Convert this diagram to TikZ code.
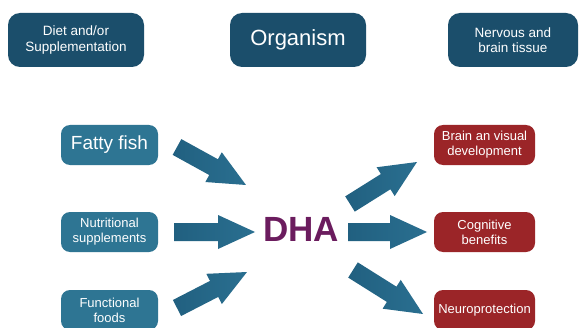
\documentclass[tikz,border=0pt]{standalone}
\usepackage{fontspec}
\setmainfont{Liberation Sans}
\usetikzlibrary{calc}
\definecolor{topbox}{HTML}{1B4E6B}
\definecolor{srcbox}{HTML}{2E7593}
\definecolor{effbox}{HTML}{9B2528}
\definecolor{arrcol}{HTML}{216080}
\definecolor{arrcolB}{HTML}{2A6F90}
\definecolor{dhacol}{HTML}{6B1C5E}
\tikzset{
  topstyle/.style={fill=topbox, rounded corners=12pt, text=white, align=center,
    minimum height=54pt, inner sep=0pt, font=\fontsize{13.5}{15.5}\selectfont},
  srcstyle/.style={fill=srcbox, rounded corners=9pt, text=white, align=center,
    minimum width=97pt, minimum height=40pt, inner sep=0pt, font=\fontsize{13}{15}\selectfont},
  effstyle/.style={fill=effbox, rounded corners=9pt, text=white, align=center,
    minimum width=101pt, minimum height=40pt, inner sep=0pt, font=\fontsize{13}{15}\selectfont},
  arrstyle/.style={left color=arrcol, right color=arrcolB, draw=none}
}
\begin{document}
\begin{tikzpicture}[x=1pt,y=1pt]
\useasboundingbox (0,0) rectangle (580,327);
\clip (0,0) rectangle (580,327);
\fill[white] (0,0) rectangle (580,327);
% top row
\node[topstyle, minimum width=136pt] (diet) at (76,287) {Diet and/or\\Supplementation};
\node[topstyle, minimum width=136pt, font=\fontsize{22}{26}\selectfont] (org) at (298,287) {Organism};
\node[topstyle, minimum width=130pt] (nerv) at (513,287) {Nervous and\\brain tissue};
% sources
\node[srcstyle, font=\fontsize{19}{22}\selectfont] (fish) at (109.5,182) {Fatty fish};
\node[srcstyle] (supp) at (109.5,95) {Nutritional\\supplements};
\node[srcstyle] (food) at (109.5,17) {Functional\\foods};
% centre
\node[text=dhacol, font=\fontsize{35}{38}\selectfont\bfseries, inner sep=0pt] (dha) at (301,98) {DHA};
% effects
\node[effstyle] (brain) at (484.5,182) {Brain an visual\\development};
\node[effstyle] (cogn) at (484.5,95) {Cognitive\\benefits};
\node[effstyle] (neuro) at (484.5,17) {Neuroprotection};
% arrow end points
\coordinate (t1) at (177,180); \coordinate (h1) at (246,142);
\coordinate (t2) at (174,95);  \coordinate (h2) at (255,95);
\coordinate (t3) at (177,19);  \coordinate (h3) at (247,55);
\coordinate (t4) at (350,123); \coordinate (h4) at (417,165);
\coordinate (t5) at (348,95);  \coordinate (h5) at (427,95);
\coordinate (t6) at (353,57);  \coordinate (h6) at (423,13);
\foreach \s/\e in {t1/h1,t2/h2,t3/h3,t4/h4,t5/h5,t6/h6}{
  \pgfmathanglebetweenpoints{\pgfpointanchor{\s}{center}}{\pgfpointanchor{\e}{center}}
  \let\arrang\pgfmathresult
  \pgfpointdiff{\pgfpointanchor{\s}{center}}{\pgfpointanchor{\e}{center}}
  \pgfgetlastxy{\arrdx}{\arrdy}
  \pgfmathveclen{\arrdx}{\arrdy}
  \let\arrlen\pgfmathresult
  \begin{scope}[shift={(\s)}, rotate=\arrang]
    \shade[arrstyle] (0,-9) -- (\arrlen-37,-9) -- (\arrlen-37,-17) -- (\arrlen,0)
      -- (\arrlen-37,17) -- (\arrlen-37,9) -- (0,9) -- cycle;
  \end{scope}
}
\end{tikzpicture}
\end{document}
